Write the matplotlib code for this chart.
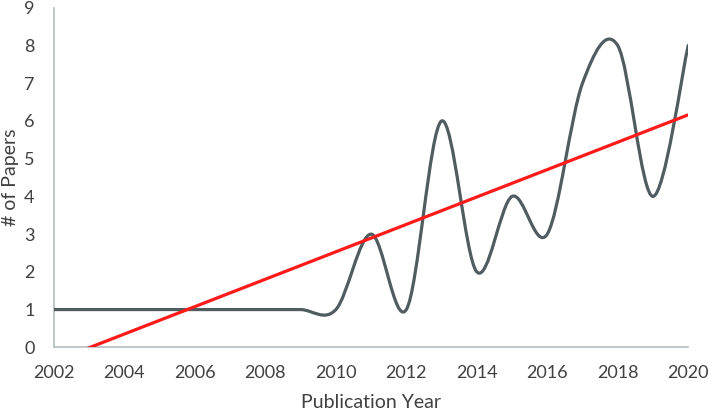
import numpy as np
from matplotlib import pyplot as plt
from matplotlib.path import Path
from matplotlib.patches import PathPatch

# Papers per publication year
years = list(range(2002, 2021))
papers = [1, 1, 1, 1, 1, 1, 1, 1, 1, 3, 1, 6, 2, 4, 3, 7, 8, 4, 8]

plt.rcParams['font.family'] = ['Lato', 'DejaVu Sans']

fig = plt.figure(figsize=(7.08, 4.11), dpi=100)
ax = fig.add_axes([0.0763, 0.155, 0.8957, 0.826])

# Smoothed line (Excel-style bezier through each point)
x = np.array(years, dtype=float)
y = np.array(papers, dtype=float)
xp = np.concatenate(([x[0]], x, [x[-1]]))
yp = np.concatenate(([y[0]], y, [y[-1]]))
verts = [(x[0], y[0])]
codes = [Path.MOVETO]
for i in range(len(x) - 1):
    j = i + 1
    c1 = (xp[j] + (xp[j+1] - xp[j-1]) / 6, yp[j] + (yp[j+1] - yp[j-1]) / 6)
    c2 = (xp[j+1] - (xp[j+2] - xp[j]) / 6, yp[j+1] - (yp[j+2] - yp[j]) / 6)
    verts += [c1, c2, (x[i+1], y[i+1])]
    codes += [Path.CURVE4] * 3
ax.add_patch(PathPatch(Path(verts, codes), fill=False, edgecolor='#505c60',
                       lw=2.3, capstyle='round', joinstyle='round', zorder=3))

# Linear trend line
slope, icpt = np.polyfit(x, y, 1)
ax.plot(x, slope * x + icpt, color='#ff1a1a', lw=2.3, zorder=4,
        solid_capstyle='butt')

ax.set_xlim(2002, 2020)
ax.set_ylim(0, 9)
ax.set_xticks(range(2002, 2021, 2))
ax.set_yticks(range(0, 10))
ax.tick_params(length=0, labelsize=13, colors='#404040')
ax.tick_params(axis='x', pad=13)
ax.tick_params(axis='y', pad=14)
for s in ['top', 'right']:
    ax.spines[s].set_visible(False)
for s in ['left', 'bottom']:
    ax.spines[s].set_color('#b4bec2')
    ax.spines[s].set_linewidth(1.2)
ax.set_xlabel('Publication Year', fontsize=14, color='#404040', labelpad=9)
ax.set_ylabel('# of Papers', fontsize=14, color='#404040', labelpad=4)

fig.savefig('out.png', dpi=100)
